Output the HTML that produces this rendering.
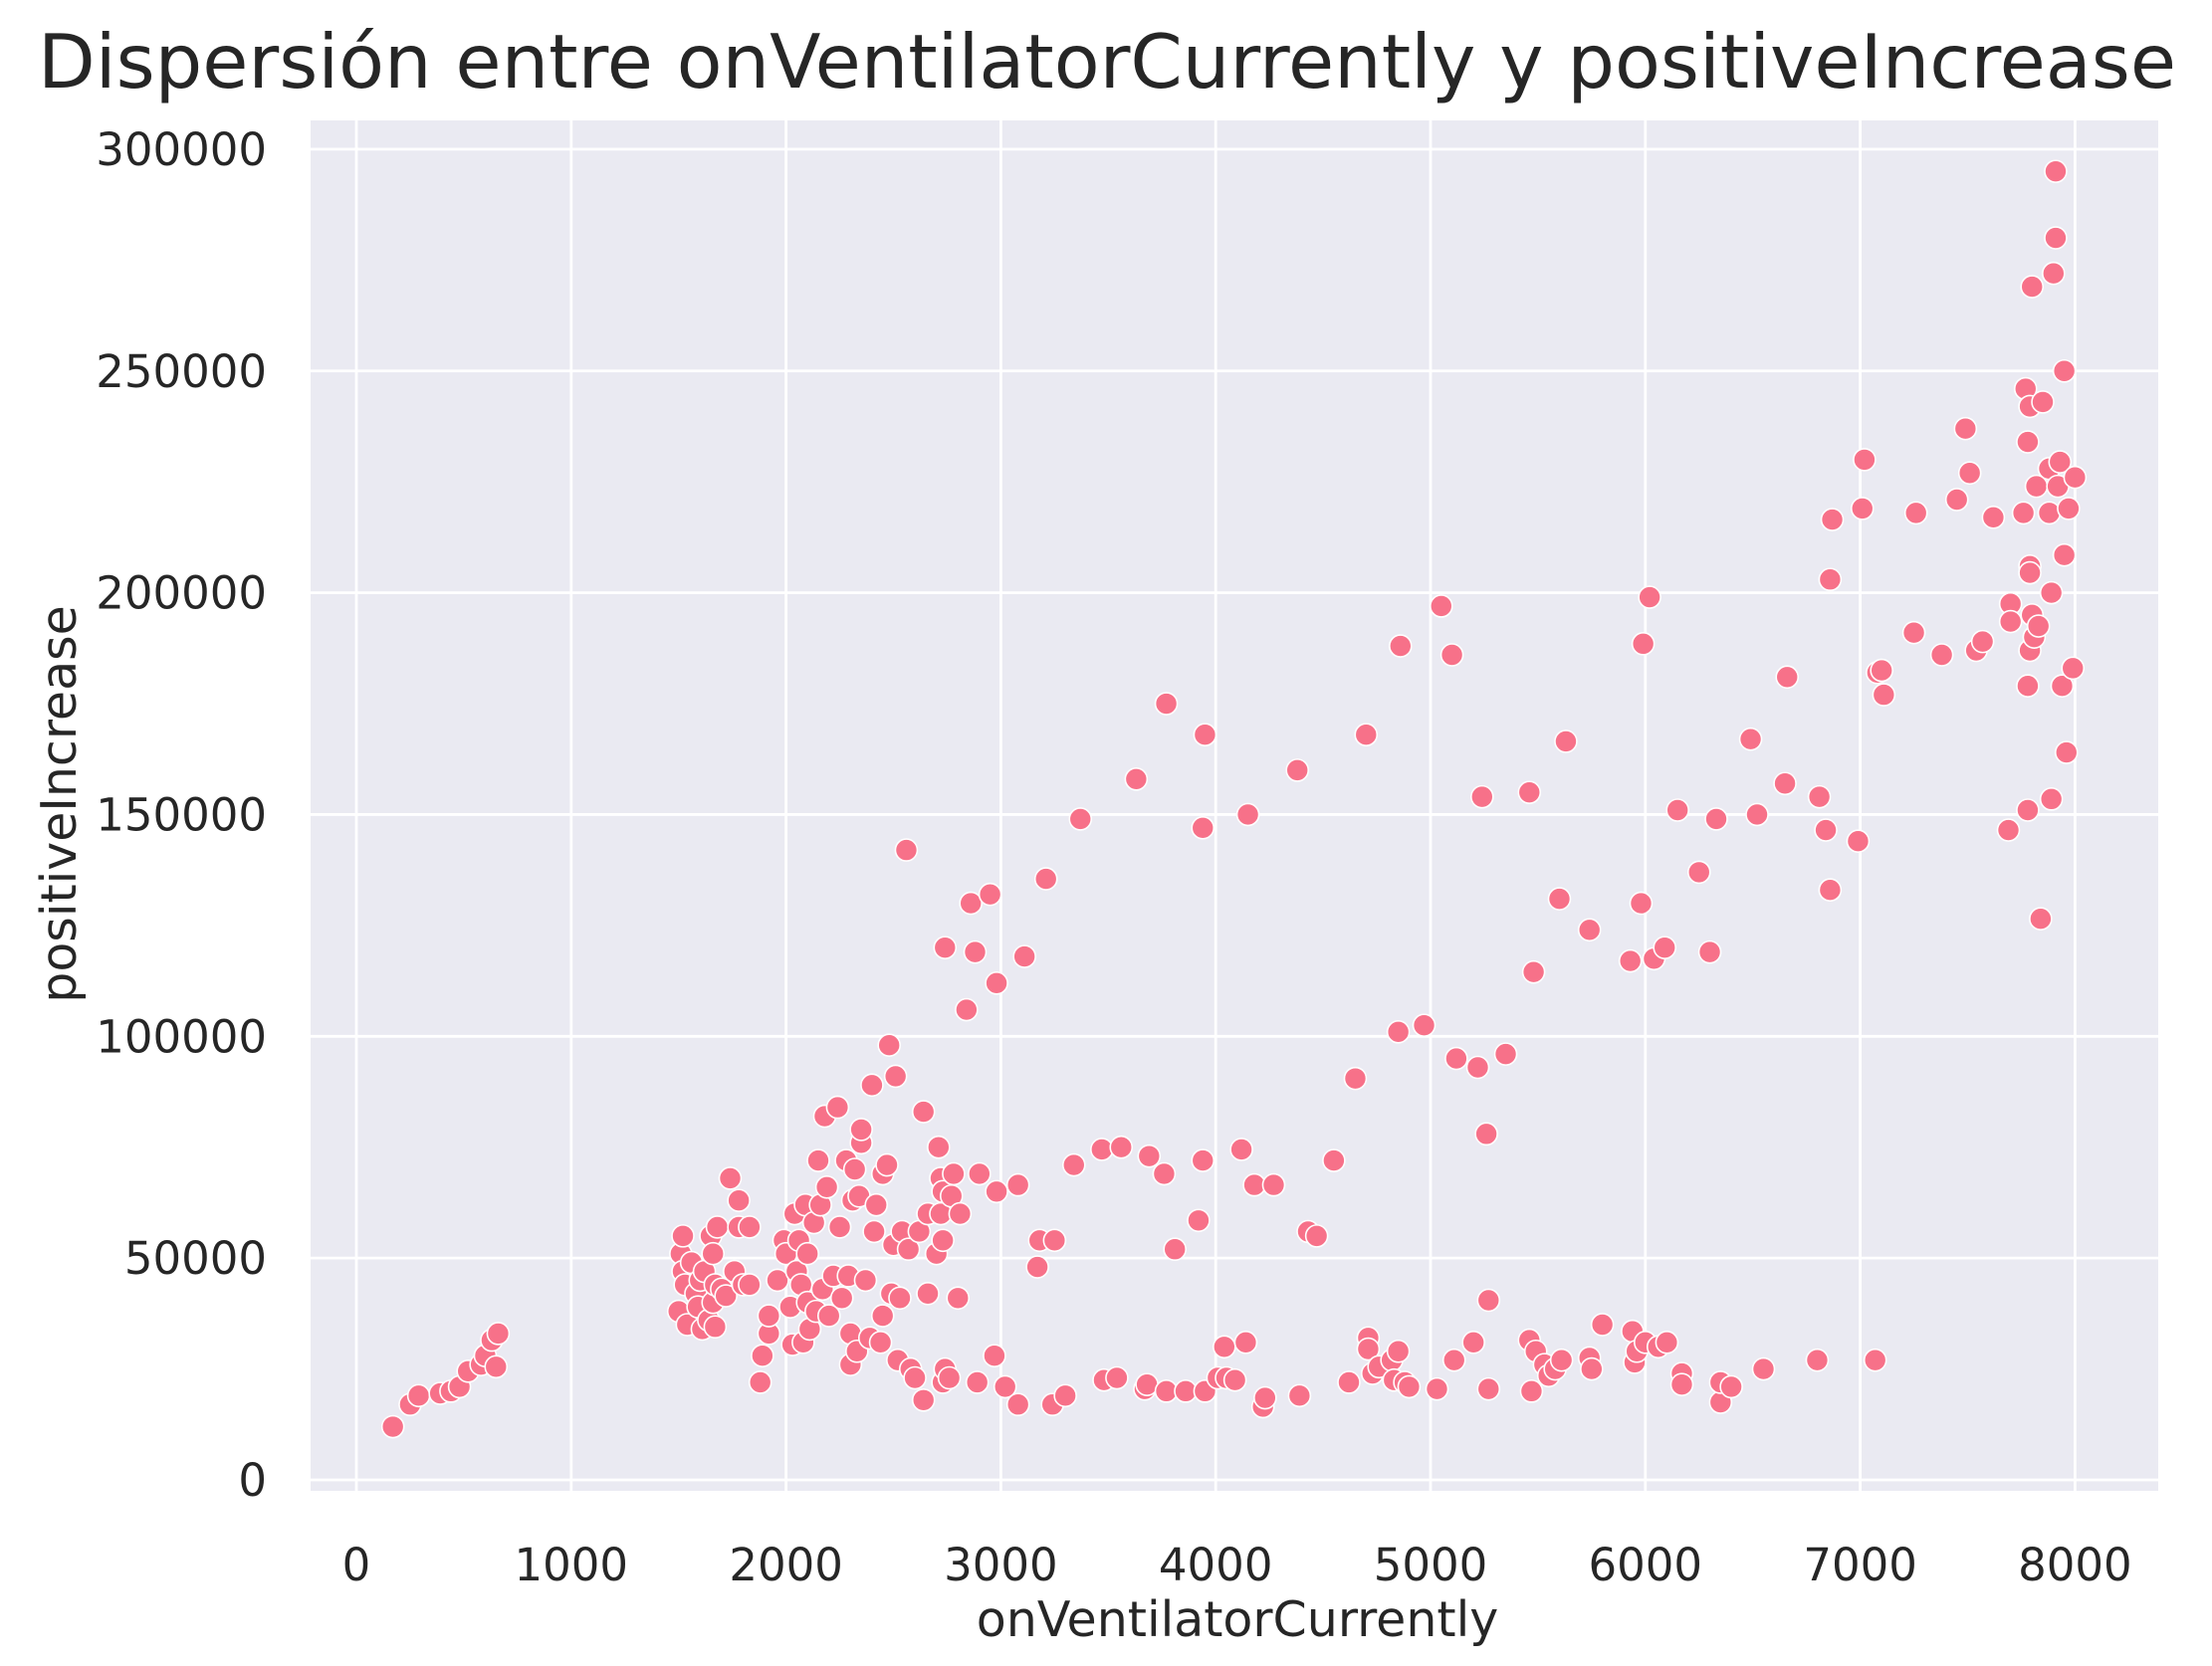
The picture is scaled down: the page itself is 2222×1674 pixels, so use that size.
<!DOCTYPE html>
<html><head><meta charset="utf-8"><style>
html,body{margin:0;padding:0;background:#fff;}
svg{display:block;font-family:"DejaVu Sans","Liberation Sans",sans-serif;}
</style></head><body>
<svg id="chart" width="2222" height="1674" viewBox="0 0 2222 1674" xmlns="http://www.w3.org/2000/svg">
<text x="1112" y="88" font-size="75" text-anchor="middle" fill="#262626">Dispersión entre onVentilatorCurrently y positiveIncrease</text>
<rect x="312" y="121" width="1856" height="1377" fill="#eaeaf2"/>
<g id="grid"></g><g id="ticks"></g><g id="points"></g>
<text x="1243" y="1644" font-size="49" text-anchor="middle" fill="#262626">onVentilatorCurrently</text>
<text x="0" y="0" font-size="49" text-anchor="middle" fill="#262626" transform="translate(76,808) rotate(-90)">positiveIncrease</text>
</svg>
<script>
const xTicks=[0,1000,2000,3000,4000,5000,6000,7000,8000];
const yTicks=[0,50000,100000,150000,200000,250000,300000];
const xVals=[170,250,290,390,440,480,520,580,600,630,660,650,1500,1510,1520,1520,1530,1540,1560,1580,1590,1600,1610,1620,1640,1650,1660,1660,1670,1670,1680,1700,1720,1740,1760,1780,1780,1800,1830,1830,1880,1890,1920,1920,1960,1990,2000,2020,2030,2040,2050,2060,2070,2080,2090,2100,2100,2110,2130,2140,2150,2160,2170,2180,2190,2200,2220,2240,2250,2260,2280,2290,2300,2300,2310,2320,2330,2340,2350,2350,2370,2390,2400,2410,2420,2440,2450,2450,2470,2480,2490,2500,2510,2520,2530,2540,2560,2570,2580,2600,2620,2640,2640,2660,2660,2700,2710,2720,2720,2730,2730,2730,2740,2740,2760,2770,2780,2800,2810,2840,2860,2880,2890,2900,2950,2970,2980,2980,3020,3080,3080,3110,3170,3180,3210,3240,3250,3300,3340,3370,3470,3480,3540,3560,3630,3670,3680,3690,3760,3770,3770,3810,3860,3920,3940,3940,3950,3950,4010,4040,4050,4090,4120,4140,4150,4180,4220,4230,4270,4380,4390,4430,4470,4550,4620,4650,4700,4710,4710,4730,4760,4820,4830,4850,4850,4860,4880,4900,4970,5030,5050,5100,5110,5120,5200,5220,5240,5260,5270,5270,5350,5460,5460,5470,5480,5490,5530,5550,5580,5600,5610,5630,5740,5740,5750,5800,5930,5940,5950,5960,5980,5990,6000,6020,6040,6060,6090,6100,6150,6170,6170,6250,6300,6330,6350,6350,6400,6490,6520,6550,6650,6660,6800,6810,6840,6860,6860,6870,6990,7010,7020,7070,7080,7100,7110,7250,7260,7380,7450,7490,7510,7540,7570,7620,7690,7700,7700,7760,7770,7780,7780,7780,7790,7790,7790,7790,7800,7800,7810,7820,7830,7840,7850,7880,7880,7890,7890,7900,7910,7910,7920,7930,7940,7950,7950,7960,7970,7990,8000];
const yVals=[12000,17000,19000,19500,20000,21000,24500,26000,28000,31500,33000,25500,38000,51000,47000,55000,44000,35000,49000,42000,39000,45000,34000,47000,36000,55000,51000,40000,44000,34500,57000,43000,41500,68000,47000,63000,57000,44000,57000,44000,22000,28000,33000,37000,45000,54000,51000,39000,30500,60000,47000,54000,44000,31000,62000,51000,40000,34000,58000,38000,72000,62000,43000,82000,66000,37000,46000,84000,57000,41000,72000,46000,33000,26000,63000,70000,29000,64000,76000,79000,45000,32000,89000,56000,62000,31000,37000,69000,71000,98000,42000,53000,91000,27000,41000,56000,142000,52000,25000,23000,56000,18000,83000,42000,60000,51000,75000,68000,60000,65000,54000,22000,120000,25000,23000,64000,69000,41000,60000,106000,130000,119000,22000,69000,132000,28000,112000,65000,21000,17000,66500,118000,48000,54000,135500,17000,54000,19000,71000,149000,74500,22500,23000,75000,158000,20500,21500,73000,69000,20000,175000,52000,20000,58500,72000,147000,168000,20000,23000,30000,23000,22500,74500,31000,150000,66500,16500,18500,66500,160000,19000,56000,55000,72000,22000,90500,168000,32000,29500,24000,25500,27000,22500,29000,101000,188000,22000,21000,102500,20500,197000,186000,27000,95000,31000,93000,154000,78000,20500,40500,96000,155000,31500,20000,114500,29000,26000,23500,25000,131000,27000,166500,124000,27500,25000,35000,117000,33500,26500,29000,130000,188500,31000,199000,117500,30000,120000,31000,151000,24000,21500,137000,119000,149000,17500,22000,21000,167000,150000,25000,157000,181000,27000,154000,146500,133000,203000,216500,144000,219000,230000,27000,182000,182500,177000,191000,218000,186000,221000,237000,227000,187000,189000,217000,146500,197500,193500,218000,246000,151000,179000,234000,242000,206000,204500,187000,269000,195000,190000,224000,192500,126500,243000,228000,218000,200000,153500,272000,295000,280000,224000,229500,179000,208500,250000,164000,219000,183000,226000];
const NS='http://www.w3.org/2000/svg';
const X=v=>358+v*0.2158;
const Y=v=>1487-v*0.004457;
const grid=document.getElementById('grid'),ticks=document.getElementById('ticks'),pts=document.getElementById('points');
function mk(tag,attrs,parent){const e=document.createElementNS(NS,tag);for(const k in attrs)e.setAttribute(k,attrs[k]);parent.appendChild(e);return e;}
xTicks.forEach(t=>{
  const l=mk('line',{x1:X(t),x2:X(t),y1:121,y2:1498,stroke:'#fff','stroke-width':2.8},grid);
  
  
  const tx=mk('text',{x:X(t),y:1588,'font-size':45,'text-anchor':'middle',fill:'#262626'},ticks);
  tx.textContent=t;
  
  
});
yTicks.forEach(t=>{
  const l=mk('line',{x1:312,x2:2168,y1:Y(t),y2:Y(t),stroke:'#fff','stroke-width':2.8},grid);
  
  
  const tx=mk('text',{x:268,y:Y(t)+16,'font-size':45,'text-anchor':'end',fill:'#262626'},ticks);
  tx.textContent=t;
  
  
});
xVals.forEach((v,i)=>{
  const c=mk('circle',{cx:X(v),cy:Y(yVals[i]),r:11,fill:'#f77189',stroke:'#fff','stroke-width':1.6},pts);
  
  
});
</script>
</body></html>
